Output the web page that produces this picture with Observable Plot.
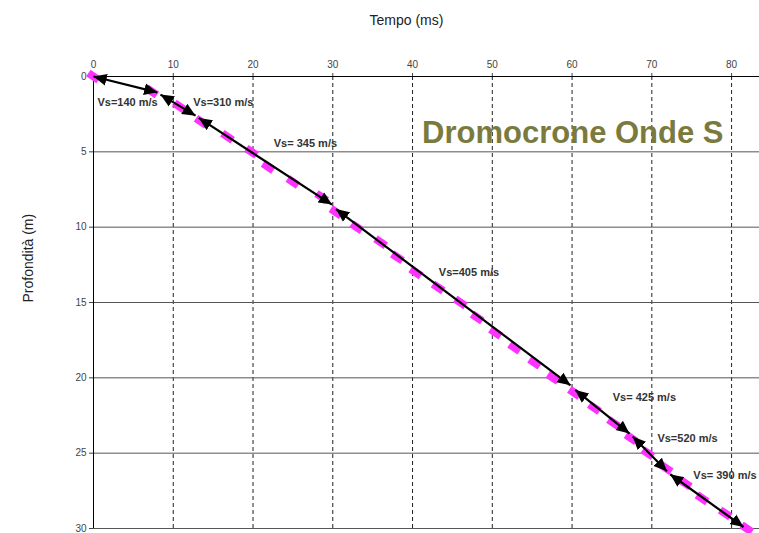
<!DOCTYPE html>
<html><head><meta charset="utf-8">
<script src="https://cdn.jsdelivr.net/npm/d3@7"></script>
<script src="https://cdn.jsdelivr.net/npm/@observablehq/plot@0.6"></script>
<style>body{margin:0;background:#fff;} #chart{width:759px;height:533px;}</style>
</head><body><div id="chart"></div>
<script>
// Axis ticks
const xTicks = [0, 10, 20, 30, 40, 50, 60, 70, 80];
const yTicks = [0, 5, 10, 15, 20, 25, 30];

// Measured first arrivals (dromocrone): depth (m) and time (ms)
const measDepth = [0,1,2,3,4,5,6,7,8,9,10,11,12,13,14,15,16,17,18,19,20,21,22,23,24,25,26,27,28,29,30];
const measTime  = [0,7.3,10.8,13.5,16.8,19.8,21.9,25.0,28.6,30.4,33.0,36.0,38.1,40.4,43.2,46.0,48.1,50.4,52.8,55.3,57.6,60.3,62.8,65.2,67.4,69.5,71.8,74.2,76.3,79.2,81.9];

// Interpreted velocity layers (segments with arrows)
const segTimeStart  = [0.0, 8.4, 13.2, 30.4, 60.4, 67.6, 72.3];
const segDepthStart = [0.0, 1.2, 2.75, 8.8, 20.8, 23.9, 26.4];
const segTimeEnd    = [8.0, 12.8, 29.9, 59.8, 67.2, 71.9, 81.5];
const segDepthEnd   = [1.05, 2.6, 8.5, 20.5, 23.7, 26.2, 29.9];

// Velocity labels
const vsLabels = ["Vs=140 m/s", "Vs=310 m/s", "Vs= 345 m/s", "Vs=405 m/s", "Vs= 425 m/s", "Vs=520 m/s", "Vs= 390 m/s"];
const labelTime  = [0.5, 12.5, 22.6, 43.3, 65.1, 70.7, 75.2];
const labelDepth = [1.73, 1.73, 4.45, 13.0, 21.3, 24.0, 26.5];

const meas = measDepth.map((d, i) => ({t: measTime[i], d}));
const segs = segTimeStart.map((t, i) => ({t1: t, d1: segDepthStart[i], t2: segTimeEnd[i], d2: segDepthEnd[i]}));
const labels = vsLabels.map((s, i) => ({text: s, t: labelTime[i], d: labelDepth[i]}));

const rectSymbol = {
  draw(ctx, size) {
    const s = Math.sqrt(size);
    ctx.moveTo(-s * 0.7, -s * 0.45);
    ctx.lineTo(s * 0.7, -s * 0.45);
    ctx.lineTo(s * 0.7, s * 0.45);
    ctx.lineTo(-s * 0.7, s * 0.45);
    ctx.closePath();
  }
};

const chart = Plot.plot({
  width: 759, height: 533,
  marginTop: 76, marginLeft: 93, marginRight: 0, marginBottom: 5,
  style: {fontFamily: "'Liberation Sans', Arial, sans-serif", fontSize: "10px", color: "#444", background: "#fff"},
  x: {domain: [0, 83.5], axis: "top", ticks: xTicks, tickSize: 4, tickPadding: 5, label: null},
  y: {domain: [0, 30], reverse: true, ticks: yTicks, tickSize: 4, tickPadding: 3, label: null},
  marks: [
    Plot.ruleX(xTicks.slice(1), {stroke: "#222", strokeDasharray: "4,3"}),
    Plot.ruleY(yTicks, {stroke: "#555"}),
    Plot.ruleX([0], {stroke: "#000"}),
    Plot.ruleY([0], {stroke: "#000"}),
    Plot.dot(meas, {x: "t", y: "d", symbol: rectSymbol, r: 5, fill: "#ff33ff", stroke: "none", rotate: 34}),
    Plot.link(segs, {x1: "t1", y1: "d1", x2: "t2", y2: "d2", stroke: "#000", strokeWidth: 2.2, markerStart: "arrow-reverse", markerEnd: "arrow"}),
    Plot.text(labels, {x: "t", y: "d", text: "text", textAnchor: "start", fontWeight: "bold", fontSize: 11, fill: "#333"}),
    Plot.text(["Dromocrone Onde S"], {frameAnchor: "top-right", textAnchor: "end", dx: -36, dy: 44, fontSize: 31, fontWeight: "bold", fill: "#7b7a3e"}),
    Plot.text(["Tempo (ms)"], {frameAnchor: "top", dx: -20, dy: -61, fontSize: 14, fill: "#222"}),
    Plot.text(["Profondità (m)"], {frameAnchor: "left", dx: -65, rotate: -90, fontSize: 14, fill: "#222"})
  ]
});

// Filled triangular arrowheads
chart.querySelectorAll("marker").forEach(m => {
  m.setAttribute("viewBox", "-10 -5 11 10");
  m.setAttribute("markerWidth", 6.6);
  m.setAttribute("markerHeight", 6);
  m.setAttribute("fill", "#000");
  m.setAttribute("stroke", "none");
  const p = m.querySelector("path");
  if (p) p.setAttribute("d", "M-10,-4.5L0,0L-10,4.5Z");
});

document.getElementById("chart").appendChild(chart);
</script>
</body></html>
